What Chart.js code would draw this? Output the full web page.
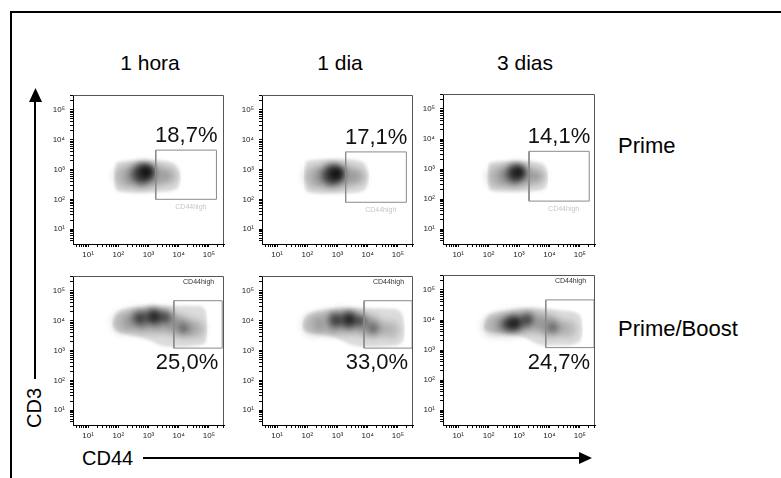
<!DOCTYPE html>
<html>
<head>
<meta charset="utf-8">
<script src="https://cdn.jsdelivr.net/npm/chart.js@4.4.0/dist/chart.umd.min.js"></script>
<style>
  body { margin: 0; background: #fff; font-family: "Liberation Sans", Arial, Helvetica, sans-serif; }
  #page { position: relative; width: 781px; height: 478px; overflow: hidden; }
  .frame { position: absolute; left: 10px; top: 11px; width: 800px; height: 500px;
           border-top: 2px solid #000; border-left: 2px solid #000; }
  .panel { position: absolute; width: 199px; height: 187px; }
  .lbl { position: absolute; color: #000; white-space: nowrap; }
  .title { font-size: 21px; line-height: 21px; transform: translateX(-50%); }
  .row { font-size: 22px; line-height: 22px; }
</style>
</head>
<body>
<div id="page">
  <div class="frame"></div>
  <svg width="781" height="478" style="position:absolute;left:0;top:0">
    <line x1="35" y1="379" x2="35" y2="100" stroke="#000" stroke-width="2"/>
    <polygon points="29,102 42,102 35.5,88" fill="#000"/>
    <line x1="143" y1="458" x2="581" y2="458" stroke="#000" stroke-width="2"/>
    <polygon points="579,452 579,464 592,458" fill="#000"/>
  </svg>
  <div class="lbl" style="left:82px;top:448px;font-size:20px;line-height:20px">CD44</div>
  <div class="lbl" style="left:34px;top:408px;font-size:20px;line-height:20px;transform:translate(-50%,-50%) rotate(-90deg)">CD3</div>
</div>

<script>
// ---- data (axis values in log10 units) ----
const timepoints = ['1 hora', '1 dia', '3 dias'];
const groups = ['Prime', 'Prime/Boost'];

const primePercents = ['18,7%', '17,1%', '14,1%'];
const boostPercents = ['25,0%', '33,0%', '24,7%'];
const gateName = 'CD44high';

// gate: [CD44 low, CD44 high, CD3 low, CD3 high]
const primeGates = [[3.24, 5.25, 2.0, 3.65], [3.27, 5.28, 1.9, 3.59], [3.33, 5.31, 1.93, 3.59]];
const boostGates = [[3.84, 5.44, 3.08, 4.67], [3.88, 5.47, 3.08, 4.67], [3.88, 5.47, 3.08, 4.67]];

// outline of each population [CD44, CD3]: upper and lower edge, left to right
const primeUpper = [
  [[1.86,2.75],[1.89,3.05],[2.0,3.25],[2.63,3.30],[3.27,3.30],[3.69,3.26],[3.96,3.07],[4.07,2.78]],
  [[1.89,2.75],[1.92,3.08],[2.02,3.29],[2.65,3.34],[3.3,3.34],[3.7,3.30],[3.95,3.10],[4.04,2.78]],
  [[1.96,2.75],[1.99,3.05],[2.08,3.22],[2.65,3.27],[3.25,3.27],[3.65,3.22],[3.88,3.05],[3.96,2.76]]
];
const primeLower = [
  [[1.86,2.75],[1.89,2.48],[2.0,2.27],[2.63,2.22],[3.27,2.24],[3.85,2.31],[4.01,2.48],[4.07,2.78]],
  [[1.89,2.75],[1.92,2.46],[2.02,2.24],[2.65,2.19],[3.3,2.20],[3.82,2.27],[3.98,2.46],[4.04,2.78]],
  [[1.96,2.75],[1.99,2.48],[2.08,2.28],[2.65,2.24],[3.25,2.25],[3.78,2.31],[3.92,2.48],[3.96,2.76]]
];
const boostUpper = [
  [[1.80,3.88],[1.9,4.18],[2.1,4.36],[2.63,4.46],[3.27,4.50],[3.91,4.50],[4.65,4.49],[4.86,4.38],[4.93,4.1],[4.95,3.7]],
  [[1.83,3.80],[1.92,4.1],[2.13,4.27],[2.67,4.38],[3.30,4.43],[3.94,4.43],[4.79,4.40],[5.11,4.27],[5.2,3.98],[5.23,3.7]],
  [[1.83,3.76],[1.92,4.05],[2.10,4.22],[2.63,4.32],[3.27,4.40],[3.80,4.38],[4.44,4.32],[4.92,4.22],[5.06,4.0],[5.1,3.72]]
];
const boostLower = [
  [[1.80,3.88],[1.9,3.68],[2.10,3.58],[2.63,3.47],[3.06,3.33],[3.38,3.18],[3.91,3.12],[4.44,3.14],[4.81,3.21],[4.91,3.32],[4.95,3.7]],
  [[1.83,3.80],[1.92,3.66],[2.13,3.58],[2.67,3.50],[3.09,3.37],[3.41,3.21],[3.94,3.12],[4.79,3.15],[5.11,3.26],[5.2,3.42],[5.23,3.7]],
  [[1.83,3.76],[1.9,3.65],[2.10,3.58],[2.63,3.53],[3.16,3.42],[3.48,3.26],[3.80,3.15],[4.44,3.15],[4.97,3.26],[5.07,3.47],[5.1,3.72]]
];

// denser cells [CD44, CD3, radius]
const primeMid = [
  [[2.2,2.76,11],[2.6,2.78,13],[2.95,2.8,14],[3.35,2.8,11],[3.7,2.78,8]],
  [[2.23,2.74,11],[2.62,2.76,13],[2.98,2.78,14],[3.38,2.78,11],[3.7,2.76,8]],
  [[2.28,2.74,11],[2.65,2.76,12],[2.98,2.78,13],[3.38,2.76,10],[3.65,2.76,7]]
];
const primeCore = [
  [[2.78,2.86,10],[2.95,2.92,7],[2.97,2.94,4]],
  [[2.82,2.82,10],[2.98,2.86,7],[3.0,2.88,4]],
  [[2.87,2.85,9],[3.0,2.9,6],[3.02,2.9,3]]
];
const boostMid = [
  [[2.15,3.94,11],[2.6,3.98,13],[3.05,4.0,14],[3.5,3.98,13],[3.9,3.88,11],[4.2,3.76,11],[4.6,3.72,9],[4.17,3.74,5]],
  [[2.2,3.86,11],[2.65,3.92,13],[3.1,3.96,14],[3.55,3.96,13],[3.95,3.86,11],[4.22,3.76,11],[4.75,3.7,9],[4.2,3.74,5]],
  [[2.15,3.8,11],[2.6,3.86,13],[3.0,3.92,13],[3.45,3.96,12],[3.85,3.86,11],[4.12,3.76,11],[4.6,3.7,9],[4.12,3.74,5]]
];
const boostCore = [
  [[2.7,4.08,7],[3.15,4.14,8],[3.55,4.12,6],[3.2,4.15,4],[4.17,3.74,3]],
  [[2.95,4.02,7],[3.38,4.04,8],[3.75,4.0,5],[3.4,4.04,4],[4.2,3.74,3]],
  [[2.65,3.86,7],[2.92,3.9,7],[3.28,4.02,6],[2.85,3.9,4],[4.12,3.74,3]]
];

// axis ticks
const tickExps = [0, 1, 2, 3, 4, 5];
const tickMults = [1, 2, 3, 4, 5, 6, 7, 8, 9];
const labelValues = [10, 100, 1000, 10000, 100000];
const tickLabels = ['10\u00B9', '10\u00B2', '10\u00B3', '10\u2074', '10\u2075'];
const axisMin = Math.pow(10, 0.5);
const axisMax = Math.pow(10, 5.5);

// ---- layout ----
const FONT = '"Liberation Sans", Arial, Helvetica, sans-serif';
const colLeft = [73, 262, 443];
const rowTop = [87, 268];
const titleX = [150, 340, 525];
const page = document.getElementById('page');

timepoints.forEach((t, i) => {
  const d = document.createElement('div');
  d.className = 'lbl title';
  d.style.left = titleX[i] + 'px';
  d.style.top = '52px';
  d.textContent = t;
  page.appendChild(d);
});
groups.forEach((g, i) => {
  const d = document.createElement('div');
  d.className = 'lbl row';
  d.style.left = '618px';
  d.style.top = (i === 0 ? 135 : 318) + 'px';
  d.textContent = g;
  page.appendChild(d);
});

const tickValues = [];
tickExps.forEach(e => tickMults.forEach(m => {
  const v = m * Math.pow(10, e);
  if (v > axisMin && v < axisMax) tickValues.push(v);
}));

const toPt = p => ({x: Math.pow(10, p[0]), y: Math.pow(10, p[1])});
const toBubble = p => ({x: Math.pow(10, p[0]), y: Math.pow(10, p[1]), r: p[2]});

function logAxis(axis) {
  return {
    type: 'logarithmic',
    min: axisMin,
    max: axisMax,
    afterBuildTicks: s => { s.ticks = tickValues.map(v => ({value: v})); },
    afterFit: s => { if (axis === 'x') s.height = 24; else s.width = 34; },
    grid: {display: true, drawOnChartArea: false, drawTicks: true, tickLength: 3, color: '#000', lineWidth: 1},
    border: {display: true, color: '#000', width: 1},
    ticks: {
      autoSkip: false, maxRotation: 0, minRotation: 0,
      padding: axis === 'x' ? 3 : 5,
      color: '#222',
      font: {family: FONT, size: 8},
      callback: v => {
        const i = labelValues.indexOf(v);
        return i >= 0 ? tickLabels[i] : '';
      }
    }
  };
}

// soft edges: light blur for the outline fill, stronger for the dense cells, none for the gate
const blurPlugin = {
  id: 'densityBlur',
  beforeDatasetsDraw(chart) { chart.ctx.save(); chart.ctx.filter = 'blur(1.5px)'; },
  beforeDatasetDraw(chart, args) {
    if (args.index <= 2) {
      chart.ctx.save();
      chart.ctx.filter = args.index === 0 ? 'none' : 'blur(3.5px)';
    }
  },
  afterDatasetDraw(chart, args) { if (args.index <= 2) chart.ctx.restore(); },
  afterDatasetsDraw(chart) { chart.ctx.restore(); }
};

// panel box and gate text
const boxPlugin = {
  id: 'panelBox',
  afterDraw(chart, args, opts) {
    const {ctx, chartArea: a, scales} = chart;
    ctx.save();
    ctx.strokeStyle = '#555';
    ctx.lineWidth = 1;
    ctx.beginPath();
    ctx.moveTo(a.left, a.top + 0.5);
    ctx.lineTo(a.right - 0.5, a.top + 0.5);
    ctx.lineTo(a.right - 0.5, a.bottom);
    ctx.stroke();

    const g = opts.gate;
    const gx1 = scales.x.getPixelForValue(Math.pow(10, g[1]));
    const gy0 = scales.y.getPixelForValue(Math.pow(10, g[2]));
    const gy1 = scales.y.getPixelForValue(Math.pow(10, g[3]));
    ctx.fillStyle = '#111';
    ctx.font = '22px ' + FONT;
    ctx.textAlign = 'right';
    ctx.textBaseline = 'alphabetic';
    if (opts.row === 0) {
      ctx.fillText(opts.pct, gx1 + 1, gy1 - 8);
      ctx.font = '7px ' + FONT;
      ctx.fillStyle = 'rgba(0,0,0,0.25)';
      ctx.fillText(gateName, gx1 - 10, gy0 + 10);
    } else {
      ctx.fillText(opts.pct, gx1 - 4, gy0 + 21);
      ctx.font = '7px ' + FONT;
      ctx.fillStyle = '#333';
      ctx.fillText(gateName, gx1 - 8, a.top + 8);
    }
    ctx.restore();
  }
};

function makePanel(row, col) {
  const gate = row === 0 ? primeGates[col] : boostGates[col];
  const upper = row === 0 ? primeUpper[col] : boostUpper[col];
  const lower = row === 0 ? primeLower[col] : boostLower[col];
  const mid = row === 0 ? primeMid[col] : boostMid[col];
  const core = row === 0 ? primeCore[col] : boostCore[col];
  const pct = row === 0 ? primePercents[col] : boostPercents[col];

  const div = document.createElement('div');
  div.className = 'panel';
  div.style.left = (colLeft[col] - 34) + 'px';
  div.style.top = (rowTop[row] - 6) + 'px';
  const canvas = document.createElement('canvas');
  div.appendChild(canvas);
  page.appendChild(div);

  const gateBox = [[gate[0], gate[2]], [gate[1], gate[2]], [gate[1], gate[3]], [gate[0], gate[3]], [gate[0], gate[2]]];
  const edge = {type: 'line', borderColor: 'rgba(0,0,0,0)', borderWidth: 0, pointRadius: 0,
                cubicInterpolationMode: 'monotone'};

  return new Chart(canvas, {
    type: 'scatter',
    data: {
      datasets: [
        {type: 'line', data: gateBox.map(toPt), borderColor: '#8a8a8a', borderWidth: 1,
         pointRadius: 0, fill: false, tension: 0},
        {type: 'bubble', data: core.map(toBubble), backgroundColor: 'rgba(0,0,0,0.62)', borderWidth: 0},
        {type: 'bubble', data: mid.map(toBubble), backgroundColor: 'rgba(0,0,0,0.16)', borderWidth: 0},
        Object.assign({data: upper.map(toPt), fill: false}, edge),
        Object.assign({data: lower.map(toPt), fill: '-1', backgroundColor: '#dcdcdc'}, edge)
      ]
    },
    options: {
      responsive: true,
      maintainAspectRatio: false,
      animation: false,
      events: [],
      layout: {padding: {top: 6, right: 8, left: 0, bottom: 0}},
      scales: {x: logAxis('x'), y: logAxis('y')},
      plugins: {
        legend: {display: false},
        tooltip: {enabled: false},
        panelBox: {gate: gate, pct: pct, row: row}
      }
    },
    plugins: [blurPlugin, boxPlugin]
  });
}

for (let r = 0; r < 2; r++) {
  for (let c = 0; c < 3; c++) makePanel(r, c);
}
</script>
</body>
</html>
